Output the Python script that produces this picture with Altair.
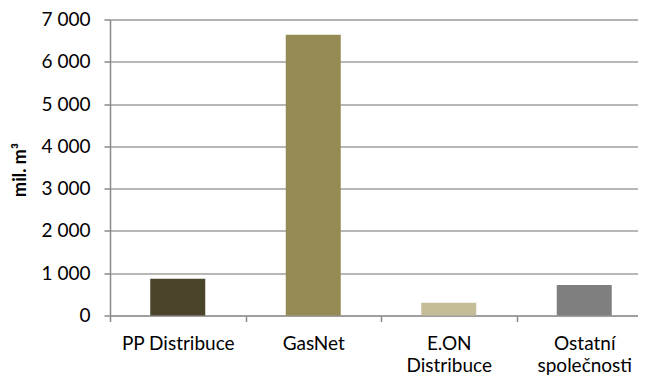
import altair as alt
import pandas as pd

categories = ["PP Distribuce", "GasNet", "E.ON\nDistribuce", "Ostatní\nspolečnosti"]
values = [868, 6640, 303, 723]
colors = ["#4A452A", "#948A54", "#C4BD97", "#7F7F7F"]
y_ticks = [0, 1000, 2000, 3000, 4000, 5000, 6000, 7000]

df = pd.DataFrame({"company": categories, "value": values})

FONT = "Lato"

bars = alt.Chart(df).mark_bar(width=alt.RelativeBandSize(0.406)).encode(
    x=alt.X(
        "company:N",
        sort=categories,
        scale=alt.Scale(paddingInner=0, paddingOuter=0, range=[0, 542]),
        axis=alt.Axis(
            title=None,
            labelAngle=0,
            labelExpr="split(datum.label, '\\n')",
            labelFont=FONT,
            labelFontSize=19,
            labelColor="#000000",
            labelBaseline="alphabetic",
            labelPadding=28,
            labelLineHeight=22,
            tickBand="extent",
            tickSize=6,
            tickColor="#888888",
            tickWidth=1.5,
            domainColor="#999999",
            domainWidth=1.5,
            grid=False,
        ),
    ),
    y=alt.Y(
        "value:Q",
        scale=alt.Scale(domain=[0, 7000], nice=False),
        axis=alt.Axis(
            values=y_ticks,
            title="mil. m³",
            titleFont=FONT,
            titleFontSize=18,
            titleFontWeight="bold",
            titleColor="#000000",
            titleAngle=-90,
            titleX=-85,
            titleY=150,
            titleAlign="center",
            titleBaseline="alphabetic",
            labelExpr="replace(format(datum.value, ','), ',', ' ')",
            labelFont=FONT,
            labelFontSize=19,
            labelColor="#000000",
            labelPadding=14,
            tickSize=6,
            tickColor="#888888",
            tickWidth=1.5,
            domainColor="#888888",
            domainWidth=1.5,
            grid=True,
            gridColor="#9F9F9F",
            gridWidth=1.5,
        ),
    ),
    color=alt.Color(
        "company:N",
        scale=alt.Scale(domain=categories, range=colors),
        legend=None,
    ),
)

chart = bars.properties(
    width=528,
    height=296,
    autosize=alt.AutoSizeParams(type="none"),
    padding={"left": 102, "top": 11.5, "right": 0, "bottom": 59.5},
).configure_view(stroke=None).configure(background="white")

chart.save("out.html", embed_options={"renderer": "svg", "actions": False})
